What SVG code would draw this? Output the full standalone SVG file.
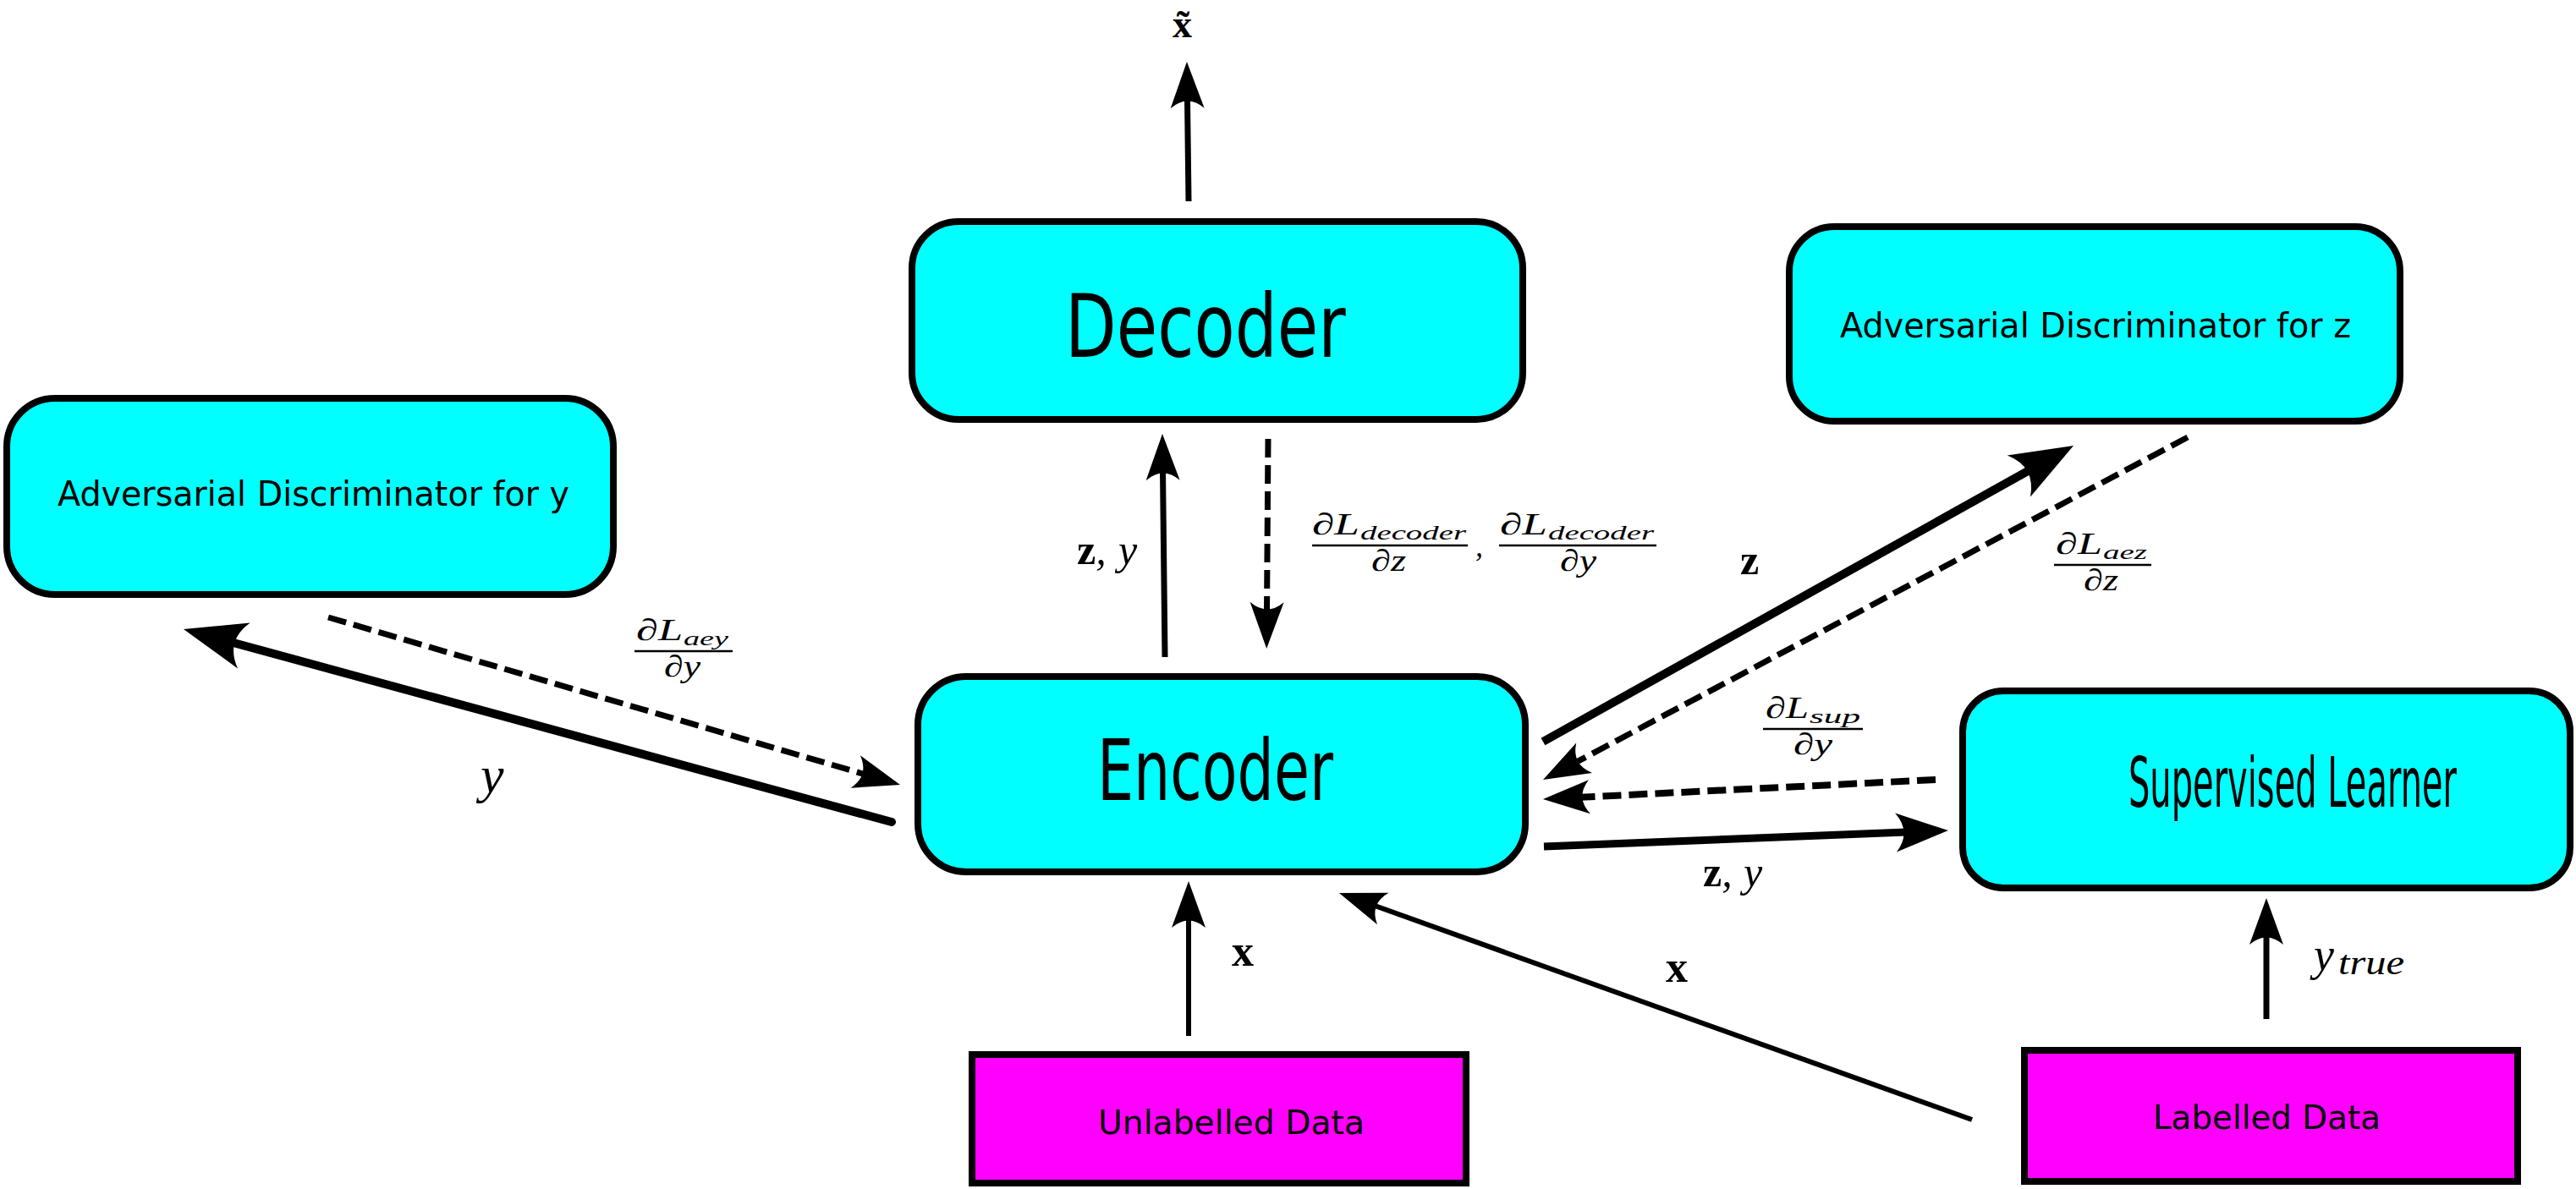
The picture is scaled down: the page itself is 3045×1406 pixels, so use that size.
<svg xmlns="http://www.w3.org/2000/svg" width="3045" height="1406" viewBox="0 0 3045 1406">
<style>
.box{fill:#00ffff;stroke:#000;stroke-width:8}
.data{fill:#ff00ff;stroke:#000;stroke-width:8}
.lbl{font-family:"DejaVu Sans",Verdana,sans-serif;fill:#000}
.m{font-family:"Liberation Serif","Times New Roman",serif;font-style:italic;fill:#000}
.mb{font-family:"Liberation Serif","Times New Roman",serif;font-weight:bold;fill:#000}
.num{font-size:36px}
.sub{font-size:24px}
.bar{stroke:#000;stroke-width:2.5}
.c{fill:none;stroke:#000}
.dash{stroke-dasharray:22 9}
</style>
<defs>
<marker id="head" viewBox="-56 -21 57 42" markerWidth="57" markerHeight="42" refX="-44" refY="0" orient="auto" markerUnits="userSpaceOnUse" overflow="visible">
<path d="M0,0 L-55,-20 Q-38,0 -55,20 Z" fill="#000"/>
</marker>
<marker id="headM" viewBox="-63 -24 64 48" markerWidth="64" markerHeight="48" refX="-50" refY="0" orient="auto" markerUnits="userSpaceOnUse" overflow="visible">
<path d="M0,0 L-62,-23 Q-43,0 -62,23 Z" fill="#000"/>
</marker>
<marker id="headL" viewBox="-75 -29 76 58" markerWidth="76" markerHeight="58" refX="-59" refY="0" orient="auto" markerUnits="userSpaceOnUse" overflow="visible">
<path d="M0,0 L-74,-28 Q-51,0 -74,28 Z" fill="#000"/>
</marker>
</defs>
<rect width="3045" height="1406" fill="#fff"/>

<g id="decoder">
<rect class="box" x="1078" y="262" width="722" height="234" rx="55" ry="55"/>
<text class="lbl" transform="translate(1259,422) scale(0.766,1)" x="0" y="0" font-size="103" textLength="433" lengthAdjust="spacingAndGlyphs">Decoder</text>
</g>
<g id="adv-z">
<rect class="box" x="2115" y="268" width="722" height="230" rx="53" ry="53"/>
<text class="lbl" x="2175" y="399" font-size="40" textLength="604" lengthAdjust="spacingAndGlyphs">Adversarial Discriminator for z</text>
</g>
<g id="adv-y">
<rect class="box" x="8" y="471" width="717" height="232" rx="57" ry="57"/>
<text class="lbl" x="68" y="598" font-size="40" textLength="605" lengthAdjust="spacingAndGlyphs">Adversarial Discriminator for y</text>
</g>
<g id="encoder">
<rect class="box" x="1085" y="800" width="718" height="231" rx="57" ry="57"/>
<text class="lbl" transform="translate(1297,946) scale(0.682,1)" x="0" y="0" font-size="100" textLength="409" lengthAdjust="spacingAndGlyphs">Encoder</text>
</g>
<g id="supervised">
<rect class="box" x="2320" y="817" width="718" height="233" rx="48" ry="48"/>
<text class="lbl" transform="translate(2516,954) scale(0.4856,1)" x="0" y="0" font-size="82" textLength="799" lengthAdjust="spacingAndGlyphs">Supervised Learner</text>
</g>
<g id="unlabelled">
<rect class="data" x="1149" y="1247" width="584" height="152"/>
<text class="lbl" x="1298" y="1341" font-size="39" textLength="315" lengthAdjust="spacingAndGlyphs">Unlabelled Data</text>
</g>
<g id="labelled">
<rect class="data" x="2393" y="1242" width="583" height="155"/>
<text class="lbl" x="2545" y="1335" font-size="39" textLength="269" lengthAdjust="spacingAndGlyphs">Labelled Data</text>
</g>

<g id="connectors">
<path class="c" d="M1405,238 L1403.5,117" stroke-width="7" marker-end="url(#head)"/>
<path class="c" d="M1377,777 L1374.5,557" stroke-width="7" marker-end="url(#head)"/>
<path class="c dash" d="M1499,519 L1497.5,723" stroke-width="7" marker-end="url(#head)"/>
<path class="c" d="M1824,877 L2399.5,555.7" stroke-width="10" marker-end="url(#headL)"/>
<path class="c dash" d="M2586,517 L1862.9,901.4" stroke-width="7" marker-end="url(#head)"/>
<path class="c dash" d="M2288,922 L1867.9,942.8" stroke-width="8" marker-end="url(#head)"/>
<path class="c" d="M1825,1001 L2253,984" stroke-width="9" marker-end="url(#headM)"/>
<path class="c" d="M1054,972 L273.9,759.5" stroke-width="10" stroke-linecap="round" marker-end="url(#headL)"/>
<path class="c dash" d="M388,730 L1021.8,915.6" stroke-width="7" marker-end="url(#head)"/>
<path class="c" d="M1405,1225 L1405,1086" stroke-width="6" marker-end="url(#head)"/>
<path class="c" d="M2331,1324 L1624.4,1070.8" stroke-width="6" marker-end="url(#head)"/>
<path class="c" d="M2679,1205 L2679,1106" stroke-width="7" marker-end="url(#head)"/>
</g>

<g id="labels">
<text class="mb" x="1386" y="44" font-size="46">x̃</text>

<text class="mb" x="1273" y="667" font-size="50">z<tspan class="m" font-weight="normal">,</tspan></text>
<text class="m" x="1322" y="667" font-size="50">y</text>

<text class="mb" x="2013" y="1048" font-size="50">z<tspan class="m" font-weight="normal">,</tspan></text>
<text class="m" x="2061" y="1048" font-size="50">y</text>

<text class="mb" x="2057" y="679" font-size="50">z</text>
<text class="m" x="568" y="937" font-size="62">y</text>
<text class="mb" x="1456" y="1142" font-size="52">x</text>
<text class="mb" x="1969" y="1161" font-size="52">x</text>

<text class="m" x="2735" y="1147" font-size="54">y</text>
<text class="m" x="2764" y="1152" font-size="40" textLength="78" lengthAdjust="spacingAndGlyphs">true</text>

<text class="m num" x="752" y="757" textLength="55" lengthAdjust="spacingAndGlyphs">∂L</text>
<text class="m sub" x="808" y="763" textLength="53" lengthAdjust="spacingAndGlyphs">aey</text>
<line class="bar" x1="750" y1="770" x2="866" y2="770"/>
<text class="m num" x="785" y="800" textLength="43" lengthAdjust="spacingAndGlyphs">∂y</text>

<text class="m num" x="2430" y="655" textLength="55" lengthAdjust="spacingAndGlyphs">∂L</text>
<text class="m sub" x="2486" y="661" textLength="52" lengthAdjust="spacingAndGlyphs">aez</text>
<line class="bar" x1="2428" y1="668" x2="2543" y2="668"/>
<text class="m num" x="2463" y="698" textLength="41" lengthAdjust="spacingAndGlyphs">∂z</text>

<text class="m num" x="2087" y="849" textLength="51" lengthAdjust="spacingAndGlyphs">∂L</text>
<text class="m sub" x="2139" y="855" textLength="60" lengthAdjust="spacingAndGlyphs">sup</text>
<line class="bar" x1="2084" y1="862" x2="2202" y2="862"/>
<text class="m num" x="2120" y="892" textLength="46" lengthAdjust="spacingAndGlyphs">∂y</text>

<text class="m num" x="1551" y="632" textLength="56" lengthAdjust="spacingAndGlyphs">∂L</text>
<text class="m sub" x="1608" y="638" textLength="125" lengthAdjust="spacingAndGlyphs">decoder</text>
<line class="bar" x1="1551" y1="645" x2="1735" y2="645"/>
<text class="m num" x="1621" y="675" textLength="41" lengthAdjust="spacingAndGlyphs">∂z</text>
<text class="m num" x="1744" y="658" font-size="40">,</text>
<text class="m num" x="1773" y="632" textLength="56" lengthAdjust="spacingAndGlyphs">∂L</text>
<text class="m sub" x="1830" y="638" textLength="125" lengthAdjust="spacingAndGlyphs">decoder</text>
<line class="bar" x1="1772" y1="645" x2="1958" y2="645"/>
<text class="m num" x="1844" y="675" textLength="43" lengthAdjust="spacingAndGlyphs">∂y</text>
</g>
</svg>
